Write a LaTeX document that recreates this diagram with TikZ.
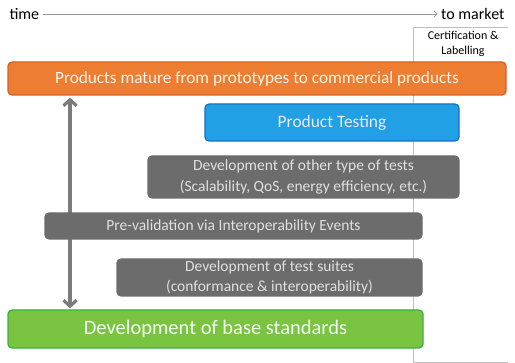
\documentclass[tikz,border=0pt]{standalone}
\usepackage{fontspec}
\setmainfont{Carlito}
\usepackage{xcolor}
\usepackage{tikz}
\usetikzlibrary{arrows.meta}
\definecolor{mktorange}{RGB}{237,125,49}
\definecolor{mktorangeline}{RGB}{214,96,38}
\definecolor{testblue}{RGB}{33,160,230}
\definecolor{testblueline}{RGB}{20,110,200}
\definecolor{stdgreen}{RGB}{122,196,66}
\definecolor{stdgreenline}{RGB}{52,178,60}
\definecolor{stepgray}{RGB}{108,108,108}
\definecolor{axisgray}{RGB}{150,150,150}
\tikzset{
  bar/.style={rectangle, rounded corners=4pt, line width=1.2pt, inner sep=0pt, align=center},
  graybar/.style={bar, fill=stepgray, draw=stepgray, text=white!88!black, font=\fontsize{15.5}{20.5}\selectfont},
  arrow/.style={line width=3.2pt, draw=stepgray!90!white},
}

\begin{document}
\begin{tikzpicture}[x=1pt, y=-1pt]
    \useasboundingbox (0,0) rectangle (515,363);
    % time axis
    \node[anchor=west, font=\fontsize{16}{18}\selectfont] (time) at (6,14) {time};
    \node[anchor=east, font=\fontsize{16}{18}\selectfont] (market) at (508,14) {to market};
    \draw[axisgray, line width=0.8pt, -{Straight Barb[length=3pt, width=6pt]}] (time) -- (market);
    % certification column
    \node[font=\fontsize{12}{14.5}\selectfont, align=center] (cert) at (463,44) {Certification \&\\Labelling};
    \coordinate (certtl) at (413,27);
    \coordinate (certbl) at (413,362);
    \draw[black!25, line width=0.8pt] (certtl -| market.east) -- (certtl) -- (certbl) -- (certbl -| market.east);
    % bars
    \node[bar, fill=mktorange, draw=mktorangeline, text=white!94!orange, minimum width=498pt, minimum height=33pt,
          font=\fontsize{17.2}{20}\selectfont] (products) at (257,78.5) {Products mature from prototypes to commercial products};
    \node[bar, fill=stdgreen, draw=stdgreenline, text=white!94!green, minimum width=415pt, minimum height=38pt,
          font=\fontsize{20.5}{24}\selectfont] (base) at (215.5,329) {Development of base standards};
    \coordinate (ax) at (70,0);
    \draw[arrow, {Straight Barb[length=6pt, width=13pt]}-{Straight Barb[length=6pt, width=13pt]}]
        ([yshift=-2pt]products.south -| ax) -- ([yshift=1pt]base.north -| ax);
    \node[bar, fill=testblue, draw=testblueline, text=white!92!blue, minimum width=254pt, minimum height=37pt,
          font=\fontsize{17.4}{20}\selectfont] (testing) at (332,122.5) {Product Testing};
    \node[graybar, minimum width=311pt, minimum height=42pt] (othertests) at (303.5,177)
        {Development of other type of tests\\(Scalability, QoS, energy efficiency, etc.)};
    \node[graybar, minimum width=377pt, minimum height=26pt] (prevalid) at (233.5,226)
        {Pre-validation via Interoperability Events};
    \node[graybar, minimum width=305pt, minimum height=37pt] (suites) at (269.5,277.5)
        {Development of test suites\\(conformance \& interoperability)};
  \end{tikzpicture}
\end{document}
